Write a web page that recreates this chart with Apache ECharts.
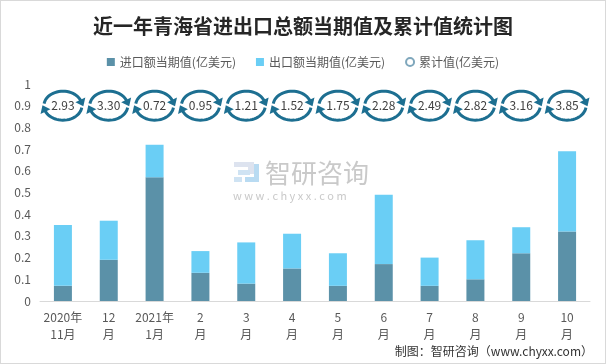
<!DOCTYPE html>
<html>
<head>
<meta charset="utf-8">
<script src="https://cdn.jsdelivr.net/npm/echarts@6/dist/echarts.min.js"></script>
<style>
html,body{margin:0;padding:0;background:#fff;}
#chart{width:606px;height:364px;box-sizing:border-box;border:1px solid #d9d9d9;}
</style>
</head>
<body>
<div id="chart"></div>
<script>
const categories = ['2020年\n11月','12\n月','2021年\n1月','2\n月','3\n月','4\n月','5\n月','6\n月','7\n月','8\n月','9\n月','10\n月'];
const importValues = [0.07,0.19,0.57,0.13,0.08,0.15,0.07,0.17,0.07,0.10,0.22,0.32];
const exportValues = [0.28,0.18,0.15,0.10,0.19,0.16,0.15,0.32,0.13,0.18,0.12,0.37];
const cumulativeValues = [2.93,3.30,0.72,0.95,1.21,1.52,1.75,2.28,2.49,2.82,3.16,3.85];
const yTicks = {min:0, max:1, interval:0.1};

const FONT = '"Noto Sans CJK SC","Noto Sans",sans-serif';
const RING = '#1D6F91';
const rowLevel = 0.9;

const chart = echarts.init(document.getElementById('chart'), null, {renderer:'canvas'});

function arcPoints(cx, cy, rx, ry, a0, a1, n) {
  const pts = [];
  for (let k = 0; k <= n; k++) {
    const th = (a0 + (a1 - a0) * k / n) * Math.PI / 180;
    pts.push([cx + rx * Math.cos(th), cy - ry * Math.sin(th)]);
  }
  return pts;
}
function arrowHead(cx, cy, rx, ry, aDeg) {
  const th = aDeg * Math.PI / 180;
  const px = cx + rx * Math.cos(th), py = cy - ry * Math.sin(th);
  let dx = rx * Math.sin(th), dy = ry * Math.cos(th);
  const len = Math.hypot(dx, dy); dx /= len; dy /= len;
  const nx = -dy, ny = dx;
  const L = 6, W = 5.5;
  return [[px + dx * L, py + dy * L], [px + nx * W - dx, py + ny * W - dy], [px - nx * W - dx, py - ny * W - dy]];
}

const option = {
  animation: false,
  textStyle: {fontFamily: FONT},
  title: {
    text: '近一年青海省进出口总额当期值及累计值统计图',
    left: 'center', top: 10,
    textStyle: {fontFamily: FONT, fontSize: 20, fontWeight: 'bold', color: '#262626'}
  },
  legend: {
    top: 50, left: 'center', itemGap: 20, itemWidth: 8, itemHeight: 8,
    textStyle: {fontFamily: FONT, fontSize: 12, color: '#595959'},
    data: [
      {name: '进口额当期值(亿美元)', icon: 'rect'},
      {name: '出口额当期值(亿美元)', icon: 'rect'},
      {name: '累计值(亿美元)', icon: 'emptyCircle'}
    ]
  },
  grid: {left: 39, right: 15, top: 83, bottom: 62},
  xAxis: {
    type: 'category', data: categories,
    axisLine: {lineStyle: {color: '#d9d9d9', width: 1}},
    axisTick: {show: false},
    axisLabel: {color: '#595959', fontSize: 12, lineHeight: 17, margin: 8, interval: 0, fontFamily: FONT}
  },
  yAxis: {
    type: 'value', min: yTicks.min, max: yTicks.max, interval: yTicks.interval,
    splitLine: {show: false}, axisLine: {show: false}, axisTick: {show: false},
    axisLabel: {color: '#595959', fontSize: 12, margin: 9, fontFamily: FONT}
  },
  series: [
    {name: '进口额当期值(亿美元)', type: 'bar', stack: 't', barWidth: 18, data: importValues, itemStyle: {color: '#5B91A8'}},
    {name: '出口额当期值(亿美元)', type: 'bar', stack: 't', barWidth: 18, data: exportValues, itemStyle: {color: '#6ACEF5'}},
    {
      name: '累计值(亿美元)', type: 'custom',
      itemStyle: {color: '#7FA7BC', borderColor: '#7FA7BC'},
      data: cumulativeValues.map((v, i) => [i, rowLevel, v]),
      renderItem: function (params, api) {
        const c = api.coord([api.value(0), api.value(1)]);
        const rx = 19, ry = 14.5;
        const top = arcPoints(c[0], c[1], rx, ry, 172, 20, 24);
        const bot = arcPoints(c[0], c[1], rx, ry, -8, -160, 24);
        return {
          type: 'group',
          children: [
            {type: 'polyline', shape: {points: top}, style: {stroke: RING, lineWidth: 3, fill: null}},
            {type: 'polyline', shape: {points: bot}, style: {stroke: RING, lineWidth: 3, fill: null}},
            {type: 'polygon', shape: {points: arrowHead(c[0], c[1], rx, ry, 20)}, style: {fill: RING}},
            {type: 'polygon', shape: {points: arrowHead(c[0], c[1], rx, ry, -160)}, style: {fill: RING}},
            {type: 'text', x: c[0], y: c[1], style: {text: api.value(2).toFixed(2), fill: '#404040', fontSize: 12, fontFamily: FONT, align: 'center', verticalAlign: 'middle'}}
          ]
        };
      },
      z: 5
    }
  ],
  graphic: [
    {type: 'group', left: 233, top: 161, silent: true, z: 0, children: [
      {type: 'rect', shape: {x: 0, y: 2, width: 20, height: 5}, style: {fill: '#dde3ef'}},
      {type: 'rect', shape: {x: 14, y: 2, width: 6, height: 12}, style: {fill: '#dde3ef'}},
      {type: 'rect', shape: {x: 4, y: 10, width: 12, height: 5}, style: {fill: '#cfe3f3'}},
      {type: 'rect', shape: {x: 0, y: 17, width: 8, height: 5}, style: {fill: '#cfe3f3'}},
      {type: 'rect', shape: {x: 20, y: 4, width: 5, height: 18}, style: {fill: '#b9dbf2'}},
      {type: 'rect', shape: {x: 11, y: 17, width: 14, height: 5}, style: {fill: '#b9dbf2'}}
    ]},
    {type: 'text', left: 264, top: 159, silent: true, style: {text: '智研咨询', fontSize: 26, fill: '#c9c9c9', fontFamily: FONT}},
    {type: 'text', left: 232, top: 189, silent: true, style: {text: 'w w w . c h y x x . c o m', fontSize: 11, fill: '#c9c9c9', fontFamily: FONT}},
    {type: 'text', right: 12, top: 344, silent: true, style: {text: '制图：智研咨询（www.chyxx.com）', fontSize: 12, fill: '#333', fontFamily: FONT}}
  ]
};
chart.setOption(option);
</script>
</body>
</html>
